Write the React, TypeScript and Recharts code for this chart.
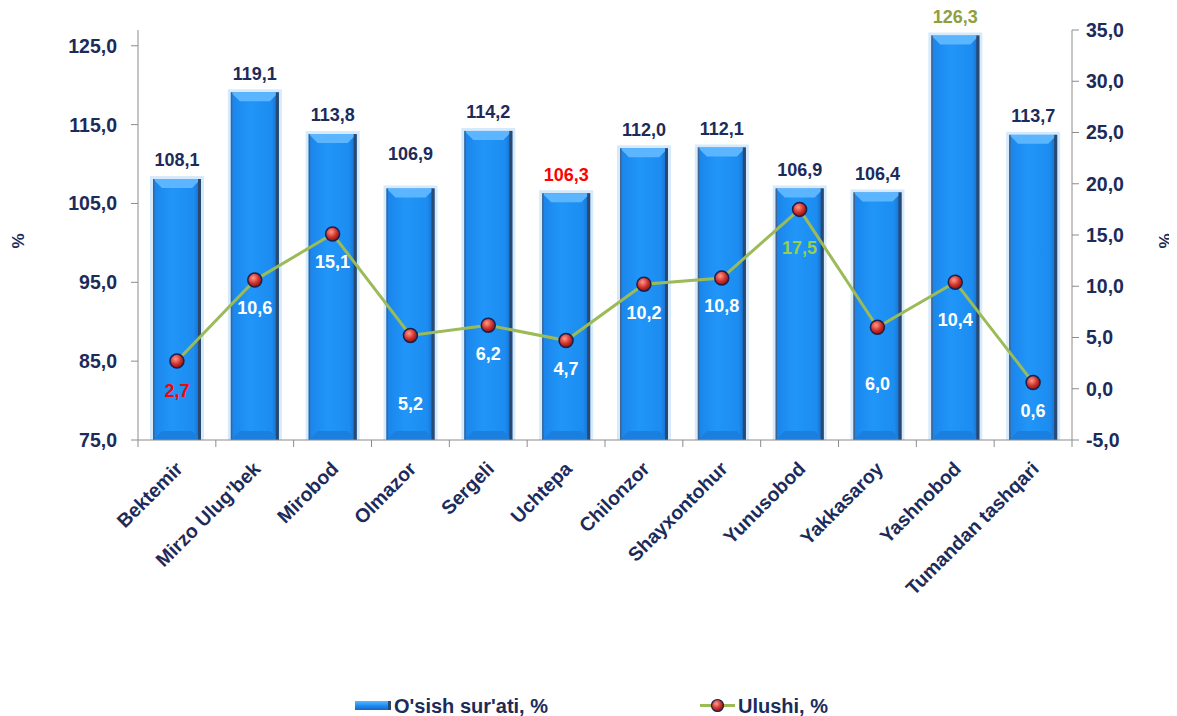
import React from "react";
import { ComposedChart, Bar, Line, XAxis, YAxis } from "recharts";

const categories = [
  "Bektemir",
  "Mirzo Ulug’bek",
  "Mirobod",
  "Olmazor",
  "Sergeli",
  "Uchtepa",
  "Chilonzor",
  "Shayxontohur",
  "Yunusobod",
  "Yakkasaroy",
  "Yashnobod",
  "Tumandan tashqari",
];
const growthRate = [108.1, 119.1, 113.8, 106.9, 114.2, 106.3, 112.0, 112.1, 106.9, 106.4, 126.3, 113.7];
const share = [2.7, 10.6, 15.1, 5.2, 6.2, 4.7, 10.2, 10.8, 17.5, 6.0, 10.4, 0.6];
const leftTicks = [75, 85, 95, 105, 115, 125];
const rightTicks = [-5, 0, 5, 10, 15, 20, 25, 30, 35];

const data = categories.map((name, i) => ({ name, growth: growthRate[i], share: share[i] }));

const W = 1169;
const H = 708;
const LEFT_W = 130;
const RIGHT_W = 105;
const TOP = 22;
const XAXIS_H = 276;
const PLOT_W = W - LEFT_W - RIGHT_W;
const NAVY = "#1C2B5A";
const FONT = "'Liberation Sans', Arial, sans-serif";

const fmt = (v: number) => v.toFixed(1).replace(".", ",");

const BarShape = (props: any) => {
  const { x, y, width, height } = props;
  if (!height || height <= 0) return null;
  const b = Math.min(9, width / 4);
  return (
    <g>
      <rect x={x - 3} y={y - 3} width={width + 6} height={height + 3} fill="#d3e8fc" opacity={0.9} />
      <rect x={x} y={y} width={width} height={height} fill="url(#barGrad)" />
      <polygon
        points={`${x},${y} ${x + width},${y} ${x + width - b},${y + b} ${x + b},${y + b}`}
        fill="#5cb6ff"
      />
      <polygon
        points={`${x},${y + height} ${x + width},${y + height} ${x + width - b},${y + height - b} ${x + b},${y + height - b}`}
        fill="#1b7fe0"
      />
      <rect x={x + width - 3} y={y} width={3} height={height} fill="#2b4870" />
      <rect x={x} y={y} width={1.5} height={height} fill="#3f6490" />
    </g>
  );
};

const barLabelColor = (i: number) => (i === 5 ? "#FF0000" : i === 10 ? "#8E9F3E" : NAVY);
const barLabelLift = (i: number) => (i === 3 ? 35 : 19);

const BarLabel = (props: any) => {
  const { x, y, width, value, index } = props;
  return (
    <text
      x={x + width / 2}
      y={y - barLabelLift(index)}
      dy="0.35em"
      textAnchor="middle"
      fontFamily={FONT}
      fontWeight="bold"
      fontSize={18}
      fill={barLabelColor(index)}
    >
      {fmt(value)}
    </text>
  );
};

const lineLabelColor = (i: number) => (i === 0 ? "#FF0000" : i === 8 ? "#92D050" : "#FFFFFF");
const lineLabelDrop = (i: number) => {
  if (i === 3) return 68;
  if (i === 9) return 56;
  if (i === 8 || i === 10) return 38;
  if (i === 0) return 30;
  return 28;
};

const LineLabel = (props: any) => {
  const { x, y, value, index } = props;
  return (
    <text
      x={x}
      y={y + lineLabelDrop(index)}
      dy="0.35em"
      textAnchor="middle"
      fontFamily={FONT}
      fontWeight="bold"
      fontSize={18}
      fill={lineLabelColor(index)}
    >
      {fmt(value)}
    </text>
  );
};

const Dot = (props: any) => {
  const { cx, cy } = props;
  if (cx == null || cy == null) return null;
  return <circle cx={cx} cy={cy} r={7} fill="url(#dotGrad)" stroke="#1a2050" strokeWidth={1.5} />;
};

const XTick = (props: any) => {
  const { x, y, payload, index } = props;
  const bw = PLOT_W / categories.length;
  const lx = x - bw / 2;
  const ax = x + 7;
  const ay = y + 30;
  return (
    <g>
      <line x1={lx} y1={y} x2={lx} y2={y + 7} stroke="#8c8c8c" strokeWidth={1} />
      {index === categories.length - 1 && (
        <line x1={x + bw / 2} y1={y} x2={x + bw / 2} y2={y + 7} stroke="#8c8c8c" strokeWidth={1} />
      )}
      <text
        x={ax}
        y={ay}
        transform={`rotate(-45, ${ax}, ${ay})`}
        textAnchor="end"
        fontFamily={FONT}
        fontWeight="bold"
        fontSize={19.5}
        fill={NAVY}
      >
        {payload.value}
      </text>
    </g>
  );
};

const PercentLabel = (side: "left" | "right") => (props: any) => {
  const vb = props.viewBox || {};
  const x = side === "left" ? vb.x + 10 : vb.x + 93;
  const y = vb.y + vb.height / 2 + 6;
  return (
    <text
      x={x}
      y={y}
      transform={`rotate(-90, ${x}, ${y})`}
      textAnchor="middle"
      dy="0.35em"
      fontFamily={FONT}
      fontWeight="bold"
      fontSize={17}
      fill={NAVY}
    >
      %
    </text>
  );
};

const tickStyle = { fontFamily: FONT, fontWeight: "bold", fontSize: 19.5, fill: NAVY } as any;

const Legend = () => (
  <svg width={W} height={36} style={{ position: "absolute", left: 0, top: H - 36 }}>
    <defs>
      <linearGradient id="legBar" x1="0" y1="0" x2="0" y2="1">
        <stop offset="0%" stopColor="#5cb6ff" />
        <stop offset="50%" stopColor="#1e8ef5" />
        <stop offset="100%" stopColor="#1565c0" />
      </linearGradient>
      <radialGradient id="legDot" cx="40%" cy="35%" r="65%">
        <stop offset="0%" stopColor="#ff9a8a" />
        <stop offset="60%" stopColor="#d0302a" />
        <stop offset="100%" stopColor="#8a1410" />
      </radialGradient>
    </defs>
    <rect x={347} y={21} width={36} height={9} fill="url(#legBar)" />
    <rect x={380} y={21} width={3} height={9} fill="#2b4870" />
    <text x={386} y={33} fontFamily={FONT} fontWeight="bold" fontSize={20} fill={NAVY}>
      O'sish sur'ati, %
    </text>
    <line x1={692} y1={25.5} x2={727} y2={25.5} stroke="#9BBB59" strokeWidth={3} />
    <circle cx={709.5} cy={25.5} r={6} fill="url(#legDot)" stroke="#1a2050" strokeWidth={1.2} />
    <text x={730} y={33} fontFamily={FONT} fontWeight="bold" fontSize={20} fill={NAVY}>
      Ulushi, %
    </text>
  </svg>
);

export default function App() {
  return (
    <div style={{ position: "relative", width: W, height: H }}>
      <ComposedChart width={W} height={H} data={data} margin={{ top: TOP, right: 0, bottom: 0, left: 0 }}>
        <defs>
          <linearGradient id="barGrad" x1="0" y1="0" x2="1" y2="0">
            <stop offset="0%" stopColor="#1a84ea" />
            <stop offset="40%" stopColor="#2196f8" />
            <stop offset="85%" stopColor="#1c8cf0" />
            <stop offset="100%" stopColor="#1667c2" />
          </linearGradient>
          <radialGradient id="dotGrad" cx="40%" cy="35%" r="65%">
            <stop offset="0%" stopColor="#ff9a8a" />
            <stop offset="60%" stopColor="#d0302a" />
            <stop offset="100%" stopColor="#8a1410" />
          </radialGradient>
        </defs>
        <XAxis
          dataKey="name"
          height={XAXIS_H}
          interval={0}
          tickLine={false}
          tickSize={0}
          tickMargin={0}
          axisLine={{ stroke: "#8c8c8c" }}
          tick={<XTick />}
        />
        <YAxis
          yAxisId="left"
          orientation="left"
          width={LEFT_W}
          domain={[75, 127]}
          ticks={leftTicks}
          allowDataOverflow
          tickFormatter={fmt}
          tick={tickStyle}
          tickSize={7}
          tickMargin={14}
          axisLine={{ stroke: "#8c8c8c" }}
          tickLine={{ stroke: "#8c8c8c" }}
          label={PercentLabel("left")}
        />
        <YAxis
          yAxisId="right"
          orientation="right"
          width={RIGHT_W}
          domain={[-5, 35]}
          ticks={rightTicks}
          allowDataOverflow
          tickFormatter={fmt}
          tick={{ ...tickStyle, textAnchor: "start" }}
          tickSize={7}
          tickMargin={7}
          axisLine={{ stroke: "#8c8c8c" }}
          tickLine={{ stroke: "#8c8c8c" }}
          label={PercentLabel("right")}
        />
        <Bar
          yAxisId="left"
          dataKey="growth"
          barSize={48}
          shape={<BarShape />}
          label={<BarLabel />}
          isAnimationActive={false}
        />
        <Line
          yAxisId="right"
          dataKey="share"
          stroke="#9BBB59"
          strokeWidth={3}
          dot={<Dot />}
          activeDot={false}
          label={<LineLabel />}
          isAnimationActive={false}
        />
      </ComposedChart>
      <Legend />
    </div>
  );
}
